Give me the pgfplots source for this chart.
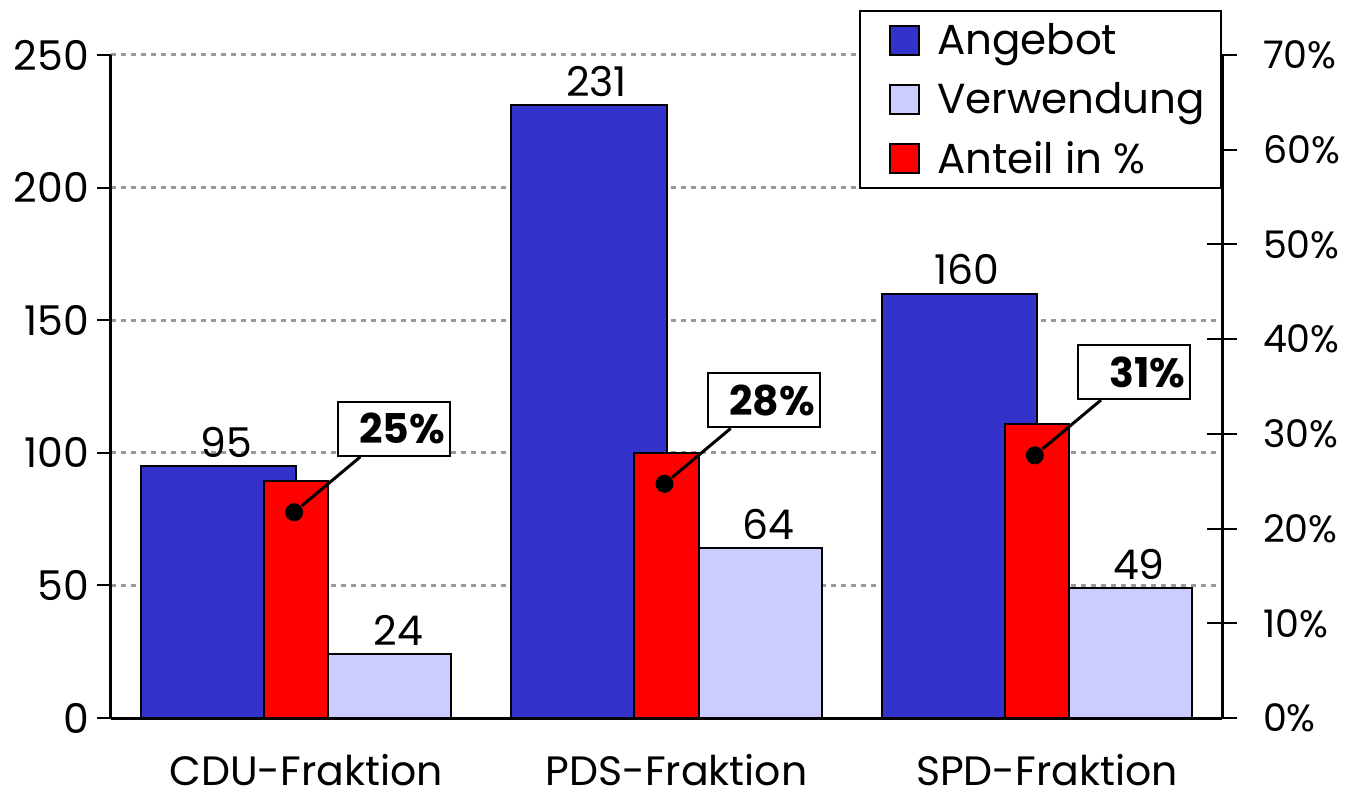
\documentclass[border=0pt]{standalone}
\usepackage{fontspec}
\setmainfont{Poppins}
\usepackage{pgfplots}
\usepackage{pgfplotstable}
\pgfplotsset{compat=1.18}
\definecolor{cBlue}{HTML}{3333CC}
\definecolor{cLight}{HTML}{CCCCFF}
\definecolor{cRed}{HTML}{FF0000}
\definecolor{cGrid}{HTML}{999999}
\newcommand\ff{\fontsize{20.5}{24}\selectfont}
\newcommand\fl{\fontsize{21}{25}\selectfont}
\newcommand\fr{\fontsize{19}{23}\selectfont}

\pgfplotstableread{
x angebot verwendung anteil
0 95  24 25
1 231 64 28
2 160 49 31
}\datatab

\begin{document}
\begin{tikzpicture}
\begin{axis}[
  scale only axis, width=555.5pt, height=331.5pt,
  xmin=-0.5, xmax=2.5, ymin=0, ymax=250,
  axis y line*=left, axis x line*=bottom,
  axis line style={line width=1.5pt, -},
  every tick/.style={black, line width=1pt},
  ytick={0,50,...,250},
  tick align=outside, major tick length=7pt,
  ymajorgrids, grid style={cGrid, line width=1.5pt, dash pattern=on 2.5pt off 2.5pt},
  xtick={0,1,2}, xticklabels={CDU-Fraktion,PDS-Fraktion,SPD-Fraktion},
  major x tick style={draw=none},
  extra x ticks={-0.5,0.5,1.5,2.5}, extra x tick labels={},
  extra x tick style={grid=none, major tick length=7pt, tick align=outside, major x tick style={black, line width=1pt}},
  tick label style={font=\ff},
  /pgf/number format/assume math mode=true,
  xticklabel style={yshift=-10pt, xshift=5pt, inner ysep=1pt},
  yticklabel style={xshift=-0.5pt},
]
\addplot[ybar, bar width=0.4186, bar shift=-0.2093, fill=cBlue, draw=black, line width=1pt,
  nodes near coords, every node near coord/.append style={font=\ff, xshift=-35pt, yshift=0.5pt, black}]
  table[x=x, y=angebot] {\datatab};
\addplot[ybar, bar width=0.4186, bar shift=0.2093, fill=cLight, draw=black, line width=1pt,
  nodes near coords, every node near coord/.append style={font=\ff, xshift=51pt, yshift=0.5pt, black}]
  table[x=x, y=verwendung] {\datatab};
\end{axis}
\begin{axis}[
  scale only axis, width=555.5pt, height=331.5pt,
  xmin=-0.5, xmax=2.5, ymin=0, ymax=70,
  axis y line*=right, axis x line=none,
  axis line style={line width=1.5pt, -},
  every tick/.style={black, line width=1pt},
  ytick={0,10,...,70},
  yticklabel={\pgfmathprintnumber{\tick}\%},
  tick align=center, major tick length=15pt,
  tick label style={font=\fr},
  /pgf/number format/assume math mode=true,
  yticklabel style={xshift=9.5pt},
  legend style={at={(1,1.0679)}, anchor=north east, draw=black, line width=1pt, fill=white,
    font=\fl, row sep=8.5pt, inner xsep=6pt, inner ysep=4pt},
  legend cell align=left,
  legend image code/.code={\path (0pt,0pt); \draw[#1, draw=black, line width=1pt] (8.5pt,-7.25pt) rectangle (23pt,7.25pt); \path (29.5pt,0pt);},
]
\addlegendimage{fill=cBlue}
\addlegendentry{Angebot}
\addlegendimage{fill=cLight}
\addlegendentry{Verwendung}
\addplot[ybar, bar width=0.173, bar shift=0, fill=cRed, draw=black, line width=1pt,
  nodes near coords={\relax},
  every node near coord/.append style={anchor=center, xshift=-1pt, yshift=-15.5pt,
    circle, fill=black, inner sep=0pt, minimum size=9pt,
    pin={[pin distance=41pt, pin edge={black, line width=1.5pt},
      draw=black, line width=1pt, fill=white, text=black, rectangle, minimum height=27pt,
      text width=51pt, align=right, inner xsep=2.5pt, inner ysep=0pt, font=\ff\bfseries,
      anchor=227]37:{\pgfmathprintnumber{\pgfplotspointmeta}\%}}}]
  table[x=x, y=anteil] {\datatab};
\addlegendentry{Anteil in \%}
\end{axis}
\pgfresetboundingbox
\path[use as bounding box] (-55.5pt,-42.5pt) rectangle (623.5pt,359pt);
\end{tikzpicture}
\end{document}
